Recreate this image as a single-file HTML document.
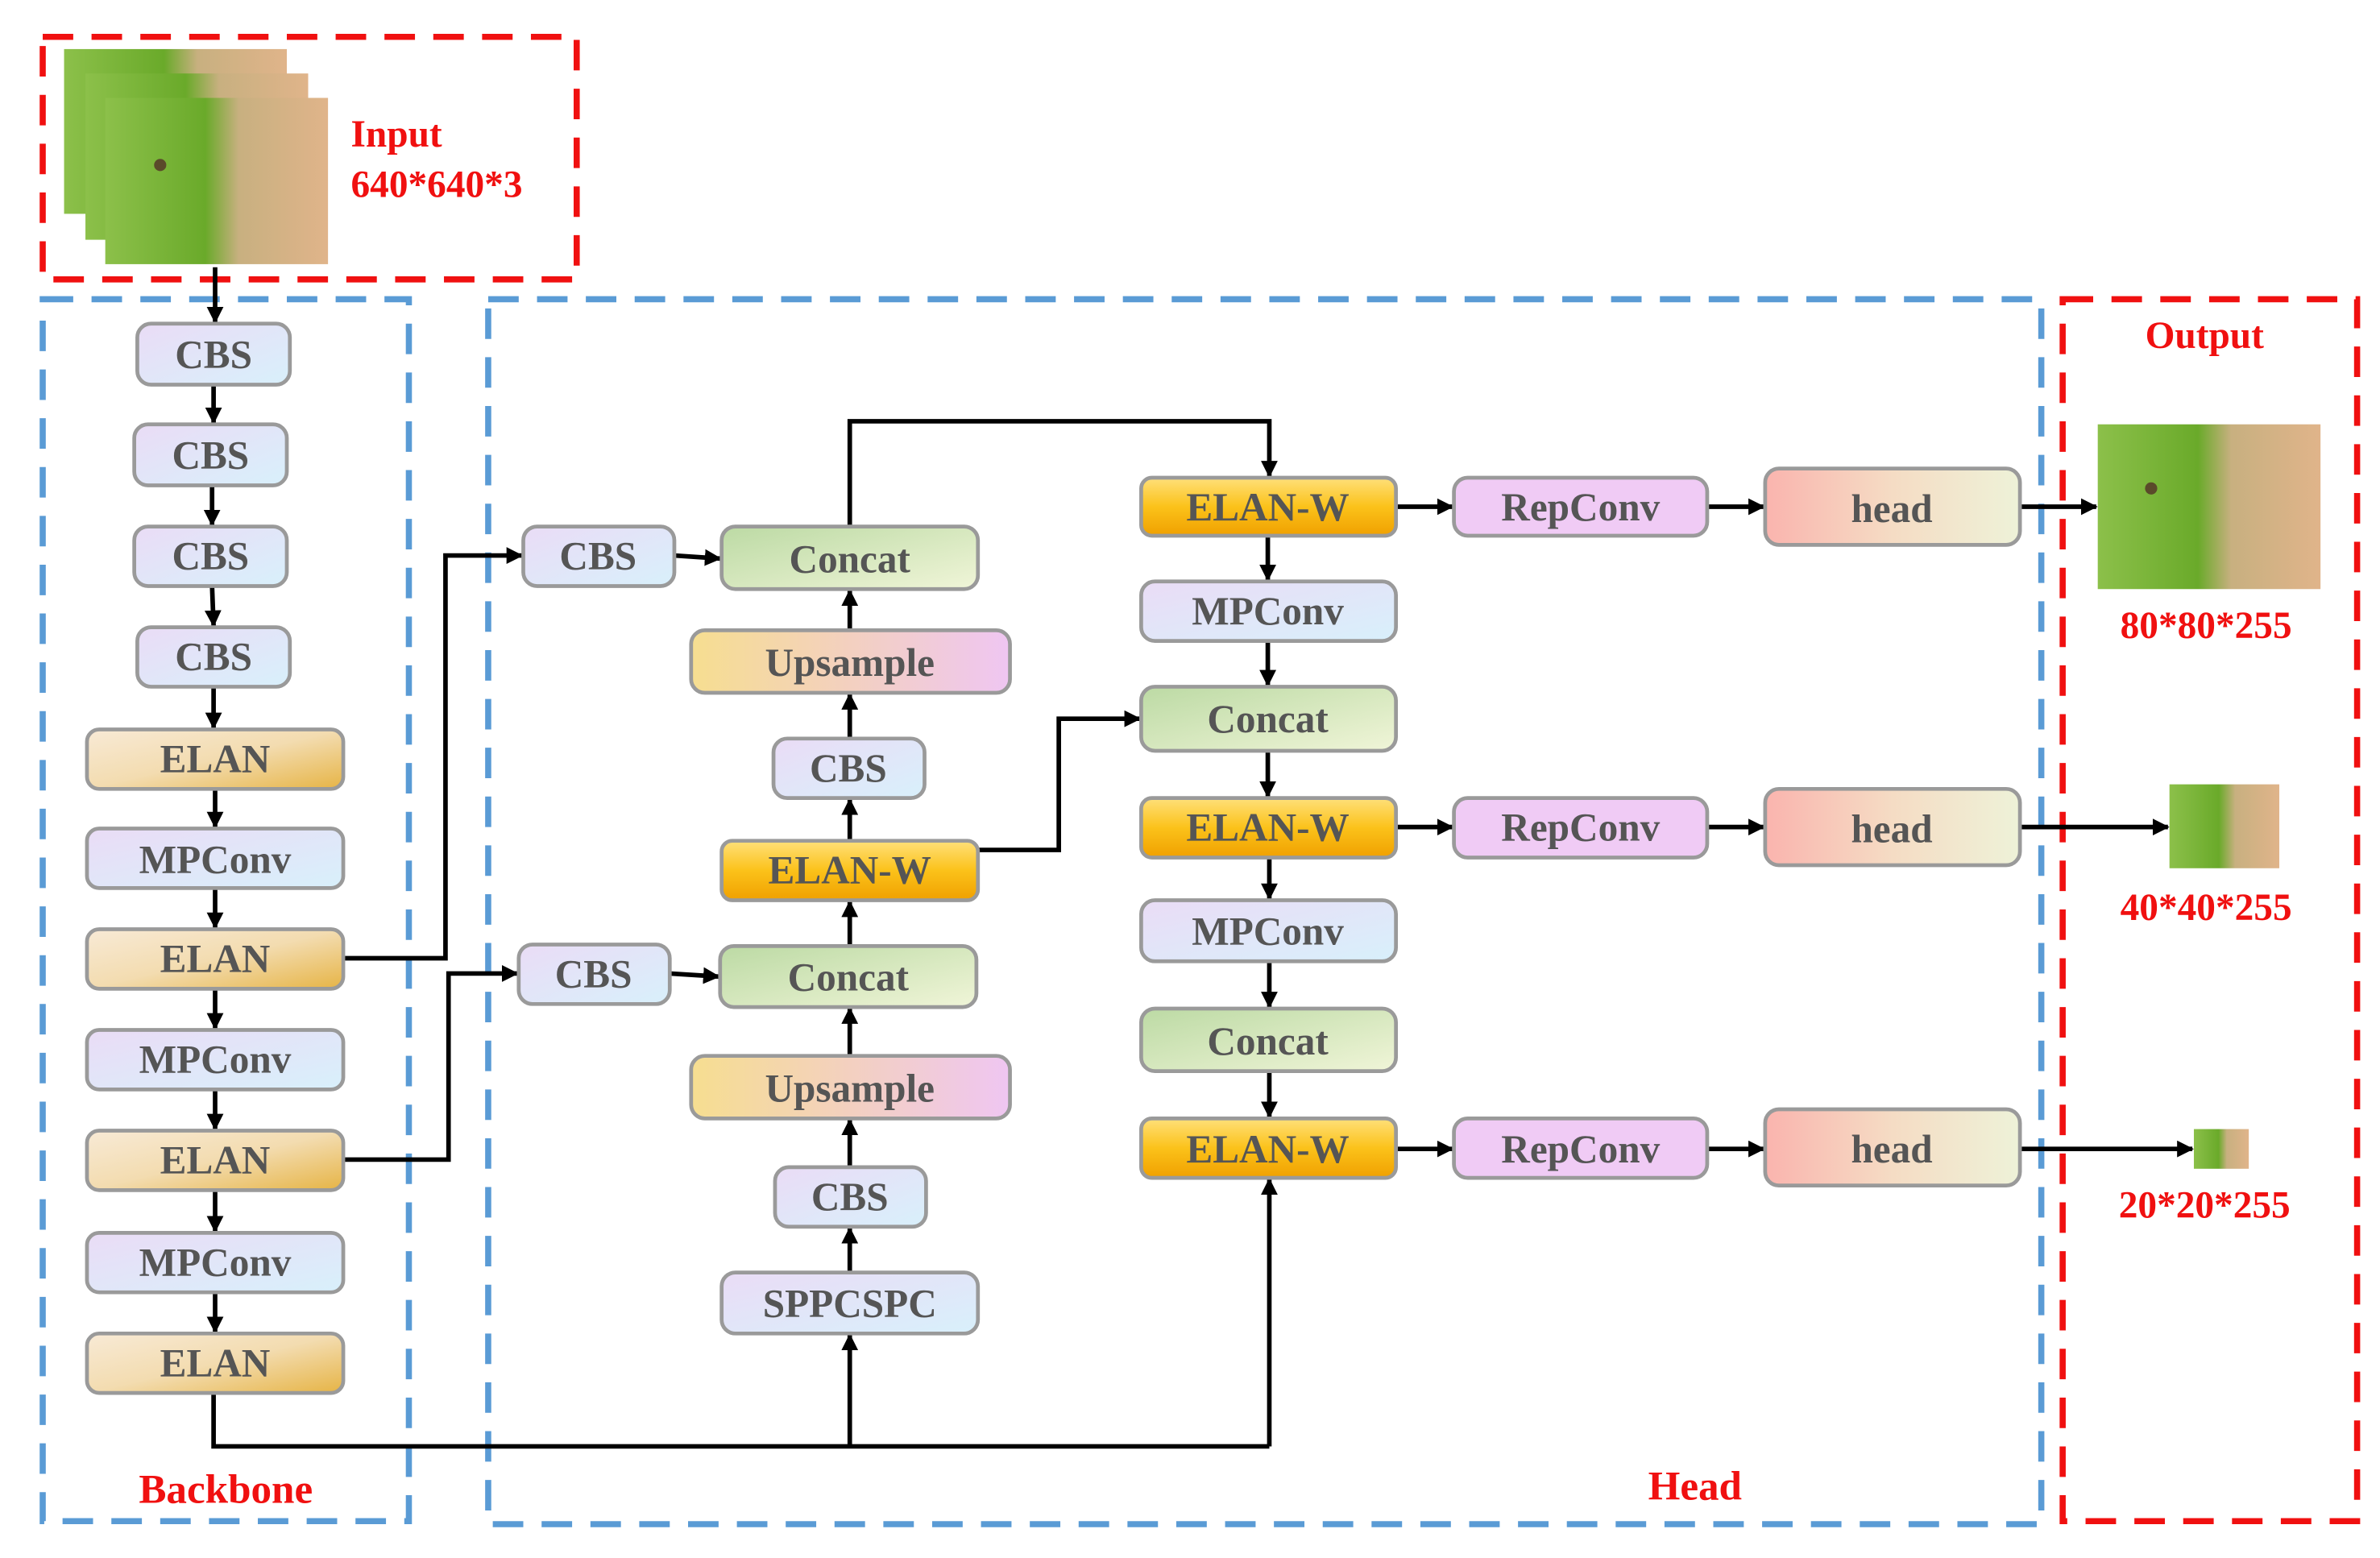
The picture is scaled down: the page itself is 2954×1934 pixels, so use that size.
<!DOCTYPE html>
<html><head><meta charset="utf-8"><style>html,body{margin:0;padding:0;background:#fff}svg{display:block}</style></head>
<body>
<svg width="2954" height="1934" viewBox="0 0 1560 1021" xmlns="http://www.w3.org/2000/svg" font-family="Liberation Serif, serif" font-weight="bold">
<defs>
<linearGradient id="gCBS" x1="0" y1="0" x2="1" y2="1"><stop offset="0" stop-color="#eadcf6"/><stop offset="1" stop-color="#d8f0fb"/></linearGradient>
<linearGradient id="gELAN" x1="0" y1="0" x2="1" y2="1"><stop offset="0" stop-color="#f8ead6"/><stop offset="0.5" stop-color="#f3dcb0"/><stop offset="1" stop-color="#e6b445"/></linearGradient>
<linearGradient id="gEW" x1="0" y1="0" x2="0" y2="1"><stop offset="0" stop-color="#ffe07a"/><stop offset="0.5" stop-color="#fbc21a"/><stop offset="1" stop-color="#f0a000"/></linearGradient>
<linearGradient id="gCat" x1="0" y1="0" x2="1" y2="1"><stop offset="0" stop-color="#bcdaa4"/><stop offset="1" stop-color="#f0f5d8"/></linearGradient>
<linearGradient id="gUp" x1="0" y1="0" x2="1" y2="0"><stop offset="0" stop-color="#f6de90"/><stop offset="0.5" stop-color="#f3d0c0"/><stop offset="1" stop-color="#efc6f2"/></linearGradient>
<linearGradient id="gHead" x1="0" y1="0" x2="1" y2="0"><stop offset="0" stop-color="#fab4ae"/><stop offset="0.5" stop-color="#f5dcc4"/><stop offset="1" stop-color="#eef2d8"/></linearGradient>
<linearGradient id="gImg" x1="0" y1="0" x2="1" y2="0"><stop offset="0" stop-color="#8cc04a"/><stop offset="0.45" stop-color="#6aaa2a"/><stop offset="0.6" stop-color="#c8b080"/><stop offset="1" stop-color="#e0b48a"/></linearGradient>
<marker id="ar" markerWidth="11" markerHeight="11" refX="10" refY="5.5" orient="auto" markerUnits="userSpaceOnUse"><path d="M0,0 L11,5.5 L0,11 z" fill="#000"/></marker>
</defs>

<g fill="none" stroke-width="4" stroke-dasharray="20,12">
<rect x="28" y="24" width="350" height="159" stroke="#f01010"/>
<rect x="1352" y="196" width="193" height="801" stroke="#f01010"/>
<rect x="28" y="196" width="240" height="801" stroke="#5a9bd5"/>
<rect x="320" y="196" width="1018" height="803" stroke="#5a9bd5"/>
</g>

<rect x="42" y="32" width="146" height="108" fill="url(#gImg)"/>
<rect x="56" y="48" width="146" height="109" fill="url(#gImg)"/>
<rect x="69" y="64" width="146" height="109" fill="url(#gImg)"/>
<ellipse cx="105" cy="108" rx="4" ry="4" fill="#5a4a2a"/>
<text x="230" y="96" fill="#f01010" font-size="25">Input</text>
<text x="230" y="129" fill="#f01010" font-size="25">640*640*3</text>

<rect x="1375" y="278" width="146" height="108" fill="url(#gImg)"/>
<circle cx="1410" cy="320" r="4" fill="#5a4a2a"/>
<rect x="1422" y="514" width="72" height="55" fill="url(#gImg)"/>
<rect x="1438" y="740" width="36" height="26" fill="url(#gImg)"/>
<g fill="#f01010" font-size="25" text-anchor="middle">
<text x="1445" y="228">Output</text>
<text x="1446" y="418">80*80*255</text>
<text x="1446" y="603">40*40*255</text>
<text x="1445" y="798">20*20*255</text>
<text x="148" y="985" font-size="27">Backbone</text>
<text x="1111" y="983" font-size="27">Head</text>
</g>

<g stroke="#000" stroke-width="3" fill="none" marker-end="url(#ar)">
<line x1="141" y1="175" x2="141" y2="211"/>
<line x1="140" y1="252" x2="140" y2="277"/>
<line x1="139" y1="318" x2="139" y2="344"/>
<line x1="139" y1="384" x2="140" y2="410"/>
<line x1="140" y1="450" x2="140" y2="477"/>
<line x1="141" y1="517" x2="141" y2="542"/>
<line x1="141" y1="582" x2="141" y2="608"/>
<line x1="141" y1="648" x2="141" y2="674"/>
<line x1="141" y1="714" x2="141" y2="740"/>
<line x1="141" y1="780" x2="141" y2="807"/>
<line x1="141" y1="847" x2="141" y2="873"/>
<polyline points="225,628 292,628 292,364 342,364"/>
<polyline points="225,760 294,760 294,638 339,638"/>
<line x1="442" y1="364" x2="472" y2="366"/>
<line x1="439" y1="638" x2="471" y2="640"/>
<polyline points="557,345 557,276 832,276 832,312"/>
<line x1="557" y1="413" x2="557" y2="387"/>
<line x1="557" y1="484" x2="557" y2="455"/>
<line x1="557" y1="551" x2="557" y2="524"/>
<line x1="557" y1="620" x2="557" y2="591"/>
<line x1="557" y1="692" x2="557" y2="661"/>
<line x1="557" y1="765" x2="557" y2="734"/>
<line x1="557" y1="834" x2="557" y2="805"/>
<polyline points="641,557 694,557 694,471 747,471"/>
<line x1="831" y1="351" x2="831" y2="380"/>
<line x1="831" y1="420" x2="831" y2="449"/>
<line x1="831" y1="492" x2="831" y2="522"/>
<line x1="832" y1="562" x2="832" y2="589"/>
<line x1="832" y1="630" x2="832" y2="660"/>
<line x1="832" y1="702" x2="832" y2="732"/>
<line x1="915" y1="332" x2="952" y2="332"/>
<line x1="1119" y1="332" x2="1156" y2="332"/>
<line x1="1324" y1="332" x2="1374" y2="332"/>
<line x1="915" y1="542" x2="952" y2="542"/>
<line x1="1119" y1="542" x2="1156" y2="542"/>
<line x1="1324" y1="542" x2="1421" y2="542"/>
<line x1="915" y1="753" x2="952" y2="753"/>
<line x1="1119" y1="753" x2="1156" y2="753"/>
<line x1="1324" y1="753" x2="1437" y2="753"/>
<line x1="557" y1="948" x2="557" y2="875"/>
<line x1="832" y1="948" x2="832" y2="773"/>
</g>
<polyline points="140,913 140,948 832,948" stroke="#000" stroke-width="3" fill="none"/>

<g stroke="#9a9a9a" stroke-width="2.5">
<rect x="90" y="212" width="100" height="40" rx="9" fill="url(#gCBS)"/>
<rect x="88" y="278" width="100" height="40" rx="9" fill="url(#gCBS)"/>
<rect x="88" y="345" width="100" height="39" rx="9" fill="url(#gCBS)"/>
<rect x="90" y="411" width="100" height="39" rx="9" fill="url(#gCBS)"/>
<rect x="57" y="478" width="168" height="39" rx="8" fill="url(#gELAN)"/>
<rect x="57" y="543" width="168" height="39" rx="8" fill="url(#gCBS)"/>
<rect x="57" y="609" width="168" height="39" rx="8" fill="url(#gELAN)"/>
<rect x="57" y="675" width="168" height="39" rx="8" fill="url(#gCBS)"/>
<rect x="57" y="741" width="168" height="39" rx="8" fill="url(#gELAN)"/>
<rect x="57" y="808" width="168" height="39" rx="8" fill="url(#gCBS)"/>
<rect x="57" y="874" width="168" height="39" rx="8" fill="url(#gELAN)"/>

<rect x="343" y="345" width="99" height="39" rx="9" fill="url(#gCBS)"/>
<rect x="473" y="345" width="168" height="41" rx="9" fill="url(#gCat)"/>
<rect x="453" y="413" width="209" height="41" rx="9" fill="url(#gUp)"/>
<rect x="507" y="484" width="99" height="39" rx="9" fill="url(#gCBS)"/>
<rect x="473" y="551" width="168" height="39" rx="7" fill="url(#gEW)"/>
<rect x="340" y="619" width="99" height="39" rx="9" fill="url(#gCBS)"/>
<rect x="472" y="620" width="168" height="40" rx="9" fill="url(#gCat)"/>
<rect x="453" y="692" width="209" height="41" rx="9" fill="url(#gUp)"/>
<rect x="508" y="765" width="99" height="39" rx="9" fill="url(#gCBS)"/>
<rect x="473" y="834" width="168" height="40" rx="9" fill="url(#gCBS)"/>

<rect x="748" y="313" width="167" height="38" rx="7" fill="url(#gEW)"/>
<rect x="748" y="381" width="167" height="39" rx="9" fill="url(#gCBS)"/>
<rect x="748" y="450" width="167" height="42" rx="9" fill="url(#gCat)"/>
<rect x="748" y="523" width="167" height="39" rx="7" fill="url(#gEW)"/>
<rect x="748" y="590" width="167" height="40" rx="9" fill="url(#gCBS)"/>
<rect x="748" y="661" width="167" height="41" rx="9" fill="url(#gCat)"/>
<rect x="748" y="733" width="167" height="39" rx="7" fill="url(#gEW)"/>

<rect x="953" y="313" width="166" height="38" rx="9" fill="#f0cbf5"/>
<rect x="953" y="523" width="166" height="39" rx="9" fill="#f0cbf5"/>
<rect x="953" y="733" width="166" height="39" rx="9" fill="#f0cbf5"/>
<rect x="1157" y="307" width="167" height="50" rx="9" fill="url(#gHead)"/>
<rect x="1157" y="517" width="167" height="50" rx="9" fill="url(#gHead)"/>
<rect x="1157" y="727" width="167" height="50" rx="9" fill="url(#gHead)"/>
</g>

<g fill="#555" font-size="26" text-anchor="middle">
<text x="140" y="241">CBS</text>
<text x="138" y="307">CBS</text>
<text x="138" y="373">CBS</text>
<text x="140" y="439">CBS</text>
<text x="141" y="506">ELAN</text>
<text x="141" y="572">MPConv</text>
<text x="141" y="637">ELAN</text>
<text x="141" y="703">MPConv</text>
<text x="141" y="769">ELAN</text>
<text x="141" y="836">MPConv</text>
<text x="141" y="902">ELAN</text>

<text x="392" y="373">CBS</text>
<text x="557" y="375">Concat</text>
<text x="557" y="443">Upsample</text>
<text x="556" y="512">CBS</text>
<text x="557" y="579">ELAN-W</text>
<text x="389" y="647">CBS</text>
<text x="556" y="649">Concat</text>
<text x="557" y="722">Upsample</text>
<text x="557" y="793">CBS</text>
<text x="557" y="863">SPPCSPC</text>

<text x="831" y="341">ELAN-W</text>
<text x="831" y="409">MPConv</text>
<text x="831" y="480">Concat</text>
<text x="831" y="551">ELAN-W</text>
<text x="831" y="619">MPConv</text>
<text x="831" y="691">Concat</text>
<text x="831" y="762">ELAN-W</text>

<text x="1036" y="341">RepConv</text>
<text x="1036" y="551">RepConv</text>
<text x="1036" y="762">RepConv</text>
<text x="1240" y="342">head</text>
<text x="1240" y="552">head</text>
<text x="1240" y="762">head</text>
</g>
</svg>
</body></html>
